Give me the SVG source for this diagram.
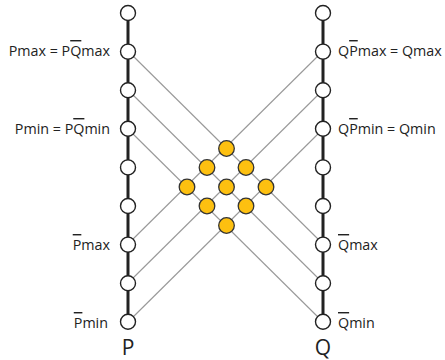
<svg xmlns="http://www.w3.org/2000/svg" width="445" height="360" viewBox="0 0 445 360">
<style>
.axis{stroke:#222;stroke-width:3;fill:none}
.edge{stroke:#999;stroke-width:1.1;fill:none}
.n{fill:#fff;stroke:#222;stroke-width:1.4}
.y{fill:#FDC010;stroke:#333;stroke-width:1.3}
.t{font-family:"Open Sans","Noto Sans",sans-serif;font-size:14.3px;fill:#222}
.big{font-family:"Open Sans","Noto Sans",sans-serif;font-size:21px;fill:#222}
.ol{text-decoration:overline}
</style>
<rect width="445" height="360" fill="#fff"/>
<g id="axes">
<line class="axis" x1="128" y1="13" x2="128" y2="322"/>
<line class="axis" x1="323" y1="13" x2="323" y2="322"/>
</g>
<g id="connectors">
<line class="edge" x1="128" y1="51" x2="323" y2="244"/>
<line class="edge" x1="128" y1="90" x2="323" y2="283"/>
<line class="edge" x1="128" y1="129" x2="323" y2="322"/>
<line class="edge" x1="128" y1="244" x2="323" y2="51"/>
<line class="edge" x1="128" y1="283" x2="323" y2="90"/>
<line class="edge" x1="128" y1="322" x2="323" y2="129"/>
</g>
<g id="P-nodes">
<g id="p0"><circle class="n" cx="128" cy="13" r="7.5"/></g>
<g id="p1"><circle class="n" cx="128" cy="51.6" r="7.5"/></g>
<g id="p2"><circle class="n" cx="128" cy="90.2" r="7.5"/></g>
<g id="p3"><circle class="n" cx="128" cy="128.8" r="7.5"/></g>
<g id="p4"><circle class="n" cx="128" cy="167.4" r="7.5"/></g>
<g id="p5"><circle class="n" cx="128" cy="206" r="7.5"/></g>
<g id="p6"><circle class="n" cx="128" cy="244.6" r="7.5"/></g>
<g id="p7"><circle class="n" cx="128" cy="283.2" r="7.5"/></g>
<g id="p8"><circle class="n" cx="128" cy="321.8" r="7.5"/></g>
</g>
<g id="Q-nodes">
<g id="q0"><circle class="n" cx="323" cy="13" r="7.5"/></g>
<g id="q1"><circle class="n" cx="323" cy="51.6" r="7.5"/></g>
<g id="q2"><circle class="n" cx="323" cy="90.2" r="7.5"/></g>
<g id="q3"><circle class="n" cx="323" cy="128.8" r="7.5"/></g>
<g id="q4"><circle class="n" cx="323" cy="167.4" r="7.5"/></g>
<g id="q5"><circle class="n" cx="323" cy="206" r="7.5"/></g>
<g id="q6"><circle class="n" cx="323" cy="244.6" r="7.5"/></g>
<g id="q7"><circle class="n" cx="323" cy="283.2" r="7.5"/></g>
<g id="q8"><circle class="n" cx="323" cy="321.8" r="7.5"/></g>
</g>
<g id="lattice">
<g id="c0"><circle class="y" cx="226.5" cy="148.5" r="7.8"/></g>
<g id="c1"><circle class="y" cx="207" cy="167.5" r="7.8"/></g>
<g id="c2"><circle class="y" cx="246" cy="167.5" r="7.8"/></g>
<g id="c3"><circle class="y" cx="187" cy="187" r="7.8"/></g>
<g id="c4"><circle class="y" cx="226.5" cy="187" r="7.8"/></g>
<g id="c5"><circle class="y" cx="266" cy="187" r="7.8"/></g>
<g id="c6"><circle class="y" cx="207" cy="206" r="7.8"/></g>
<g id="c7"><circle class="y" cx="246" cy="206" r="7.8"/></g>
<g id="c8"><circle class="y" cx="226.5" cy="225.5" r="7.8"/></g>
</g>
<g id="labels">
<text class="t" x="110" y="56" text-anchor="end">Pmax = P<tspan class="ol">Q</tspan>max</text>
<text class="t" x="110" y="134" text-anchor="end">Pmin = P<tspan class="ol">Q</tspan>min</text>
<text class="t" x="110" y="250" text-anchor="end"><tspan class="ol">P</tspan>max</text>
<text class="t" x="108" y="328" text-anchor="end"><tspan class="ol">P</tspan>min</text>
<text class="big" x="128" y="355" text-anchor="middle">P</text>
<text class="t" x="338" y="56">Q<tspan class="ol">P</tspan>max = Qmax</text>
<text class="t" x="338" y="134">Q<tspan class="ol">P</tspan>min = Qmin</text>
<text class="t" x="338" y="250"><tspan class="ol">Q</tspan>max</text>
<text class="t" x="338" y="328"><tspan class="ol">Q</tspan>min</text>
<text class="big" x="323" y="355" text-anchor="middle">Q</text>
</g>
</svg>
